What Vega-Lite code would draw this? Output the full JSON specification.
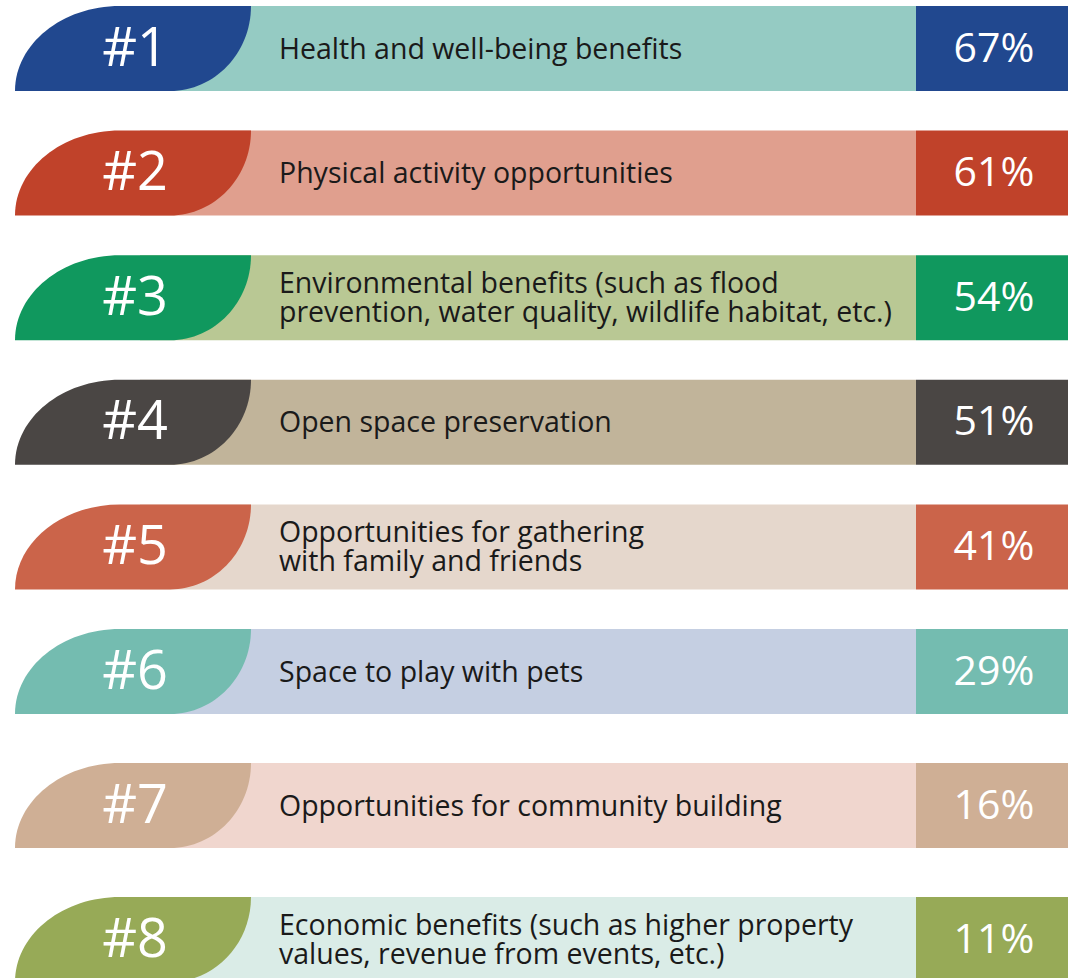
{
  "$schema": "https://vega.github.io/schema/vega-lite/v6.json",
  "width": 1068,
  "height": 978,
  "autosize": "none",
  "padding": 0,
  "background": "white",
  "config": {"view": {"stroke": null}},
  "data": {
    "values": [
      {"rank": 1, "id": "#1", "label": "Health and well-being benefits", "pct": "67%"},
      {"rank": 2, "id": "#2", "label": "Physical activity opportunities", "pct": "61%"},
      {"rank": 3, "id": "#3", "label": "Environmental benefits (such as flood\nprevention, water quality, wildlife habitat, etc.)", "pct": "54%"},
      {"rank": 4, "id": "#4", "label": "Open space preservation", "pct": "51%"},
      {"rank": 5, "id": "#5", "label": "Opportunities for gathering\nwith family and friends", "pct": "41%"},
      {"rank": 6, "id": "#6", "label": "Space to play with pets", "pct": "29%"},
      {"rank": 7, "id": "#7", "label": "Opportunities for community building", "pct": "16%"},
      {"rank": 8, "id": "#8", "label": "Economic benefits (such as higher property\nvalues, revenue from events, etc.)", "pct": "11%"}
    ]
  },
  "encoding": {
    "y": {
      "field": "rank",
      "type": "quantitative",
      "scale": {"domain": [1, 6, 8], "range": [48.5, 671.5, 939.5], "nice": false, "zero": false},
      "axis": null
    }
  },
  "layer": [
    {
      "mark": {"type": "rect", "yOffset": -42.5, "y2Offset": 42.5},
      "encoding": {
        "x": {"datum": 140, "type": "quantitative", "scale": {"domain": [0, 1068], "nice": false, "zero": false}, "axis": null},
        "x2": {"datum": 916},
        "y2": {"field": "rank"},
        "fill": {
          "field": "id", "type": "nominal", "legend": null,
          "scale": {"domain": ["#1","#2","#3","#4","#5","#6","#7","#8"], "range": ["#95CBC3","#E09F8E","#B9C894","#C1B49A","#E5D7CC","#C5CFE2","#F0D6CE","#DAECE7"]}
        }
      }
    },
    {
      "mark": {"type": "rect", "yOffset": -42.5, "y2Offset": 42.5},
      "encoding": {
        "x": {"datum": 916, "type": "quantitative"},
        "x2": {"datum": 1068},
        "y2": {"field": "rank"},
        "color": {
          "field": "id", "type": "nominal", "legend": null,
          "scale": {"domain": ["#1","#2","#3","#4","#5","#6","#7","#8"], "range": ["#21488F","#C0422A","#10985E","#4A4644","#CB644A","#74BCB0","#CFAF95","#97AA57"]}
        }
      }
    },
    {
      "mark": {
        "type": "point", "filled": true, "opacity": 1, "strokeWidth": 0, "size": 4,
        "shape": "M -118 42.5 C -118 -4.5 -71 -42.5 -13 -42.5 L 118 -42.5 C 118 4.4 81.7 42.5 37 42.5 Z"
      },
      "encoding": {
        "x": {"datum": 133, "type": "quantitative"},
        "color": {"field": "id", "type": "nominal", "legend": null}
      }
    },
    {
      "mark": {"type": "text", "font": "Open Sans", "fontSize": 54, "color": "white", "align": "center", "baseline": "middle", "dy": 1},
      "encoding": {
        "x": {"datum": 135, "type": "quantitative"},
        "text": {"field": "id"}
      }
    },
    {
      "transform": [{"filter": "indexof(datum.label, '\\n') < 0"}],
      "mark": {"type": "text", "font": "Open Sans", "fontSize": 28.5, "color": "#1a1a1a", "align": "left", "baseline": "middle", "dy": 1},
      "encoding": {
        "x": {"datum": 279, "type": "quantitative"},
        "text": {"field": "label"}
      }
    },
    {
      "transform": [{"filter": "indexof(datum.label, '\\n') >= 0"}],
      "mark": {"type": "text", "font": "Open Sans", "fontSize": 28.5, "color": "#1a1a1a", "align": "left", "baseline": "middle", "lineBreak": "\n", "lineHeight": 29, "dy": -13.5},
      "encoding": {
        "x": {"datum": 279, "type": "quantitative"},
        "text": {"field": "label"}
      }
    },
    {
      "mark": {"type": "text", "font": "Open Sans", "fontSize": 41, "color": "white", "align": "center", "baseline": "middle", "dy": 1},
      "encoding": {
        "x": {"datum": 994, "type": "quantitative"},
        "text": {"field": "pct"}
      }
    }
  ]
}
